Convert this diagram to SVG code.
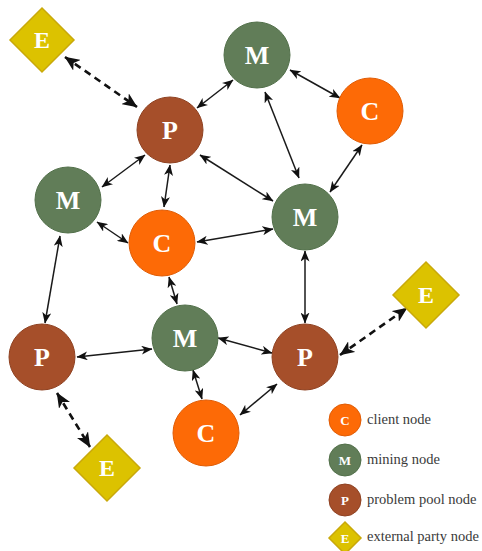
<svg xmlns="http://www.w3.org/2000/svg" width="482" height="551" viewBox="0 0 482 551">
<defs>
<style>
.m{fill:#617d58;stroke:#52704a;stroke-width:1}
.c{fill:#fd6a06;stroke:#e05c05;stroke-width:1}
.p{fill:#a64f2a;stroke:#8f4222;stroke-width:1}
.e{fill:#dcc200;stroke:#c9a90a;stroke-width:1.5}
.lbl{font-family:"Liberation Serif",serif;font-weight:bold;fill:#ffffff;text-anchor:middle}
.big{font-size:26px}
.mid{font-size:24px}
.sm{font-size:13px}
.leg{font-family:"Liberation Serif",serif;font-size:14.5px;fill:#3a3a3a}
.sl{stroke:#1a1a1a;stroke-width:1.5;fill:none;marker-start:url(#a);marker-end:url(#a)}
.dl{stroke:#111111;stroke-width:2.6;fill:none;stroke-dasharray:7,5;marker-start:url(#b);marker-end:url(#b)}
</style>
<marker id="a" markerUnits="userSpaceOnUse" viewBox="0 0 11 9" refX="10.5" refY="4.5" markerWidth="11" markerHeight="9" orient="auto-start-reverse"><path d="M0,0 L11,4.5 L0,9 L3,4.5 z" fill="#111"/></marker>
<marker id="b" markerUnits="userSpaceOnUse" viewBox="0 0 15 13" refX="14.5" refY="6.5" markerWidth="15" markerHeight="13" orient="auto-start-reverse"><path d="M0,0 L15,6.5 L0,13 L4,6.5 z" fill="#111"/></marker>
</defs>
<rect width="482" height="551" fill="#ffffff"/>
<g id="connectors">
<line class="dl" x1="65" y1="57" x2="137" y2="107"/>
<line class="sl" x1="197" y1="108" x2="233" y2="80"/>
<line class="sl" x1="290" y1="70" x2="340" y2="98"/>
<line class="sl" x1="265" y1="92" x2="299" y2="178"/>
<line class="sl" x1="362" y1="145" x2="330" y2="192"/>
<line class="sl" x1="145" y1="155" x2="102" y2="187"/>
<line class="sl" x1="170" y1="165" x2="164" y2="207"/>
<line class="sl" x1="200" y1="155" x2="273" y2="201"/>
<line class="sl" x1="97" y1="222" x2="128" y2="243"/>
<line class="sl" x1="197" y1="242" x2="273" y2="229"/>
<line class="sl" x1="60" y1="236" x2="45" y2="323"/>
<line class="sl" x1="169" y1="277" x2="177" y2="304"/>
<line class="sl" x1="77" y1="357" x2="152" y2="349"/>
<line class="sl" x1="218" y1="338" x2="272" y2="353"/>
<line class="sl" x1="305" y1="251" x2="305" y2="323"/>
<line class="dl" x1="340" y1="355" x2="407" y2="308"/>
<line class="sl" x1="193" y1="370" x2="202" y2="399"/>
<line class="sl" x1="277" y1="384" x2="240" y2="415"/>
<line class="dl" x1="57" y1="393" x2="90" y2="447"/>
</g>
<g id="E1"><polygon class="e" points="42,8 74,40 42,72 10,40"/><text class="lbl mid" x="42" y="48">E</text></g>
<g id="Mt"><circle class="m" cx="257" cy="55" r="33"/><text class="lbl big" x="257" y="64">M</text></g>
<g id="Ct"><circle class="c" cx="370" cy="111" r="33"/><text class="lbl big" x="370" y="120">C</text></g>
<g id="Pt"><circle class="p" cx="170" cy="130" r="33"/><text class="lbl big" x="170" y="139">P</text></g>
<g id="Ml"><circle class="m" cx="68" cy="200" r="33"/><text class="lbl big" x="68" y="209">M</text></g>
<g id="Cc"><circle class="c" cx="162" cy="243" r="33"/><text class="lbl big" x="162" y="252">C</text></g>
<g id="Mr"><circle class="m" cx="305" cy="217" r="33"/><text class="lbl big" x="305" y="226">M</text></g>
<g id="Pl"><circle class="p" cx="42" cy="357" r="33"/><text class="lbl big" x="42" y="366">P</text></g>
<g id="Mc"><circle class="m" cx="185" cy="338" r="33"/><text class="lbl big" x="185" y="347">M</text></g>
<g id="Pr"><circle class="p" cx="305" cy="357" r="33"/><text class="lbl big" x="305" y="366">P</text></g>
<g id="Er"><polygon class="e" points="426,262 459,295 426,328 393,295"/><text class="lbl mid" x="426" y="303">E</text></g>
<g id="Cb"><circle class="c" cx="206" cy="433" r="33"/><text class="lbl big" x="206" y="442">C</text></g>
<g id="Eb"><polygon class="e" points="107,435 140,468 107,501 74,468"/><text class="lbl mid" x="107" y="476">E</text></g>
<g id="legend">
<circle class="c" cx="345" cy="420" r="16"/><text class="lbl sm" x="345" y="425">C</text><text class="leg" x="367" y="424">client node</text>
<circle class="m" cx="345" cy="460" r="16"/><text class="lbl sm" x="345" y="465">M</text><text class="leg" x="367" y="464">mining node</text>
<circle class="p" cx="345" cy="500" r="16"/><text class="lbl sm" x="345" y="505">P</text><text class="leg" x="367" y="504">problem pool node</text>
<polygon class="e" points="345,522 361,538 345,554 329,538"/><text class="lbl sm" x="345" y="543">E</text><text class="leg" x="367" y="541">external party node</text>
</g>
</svg>
